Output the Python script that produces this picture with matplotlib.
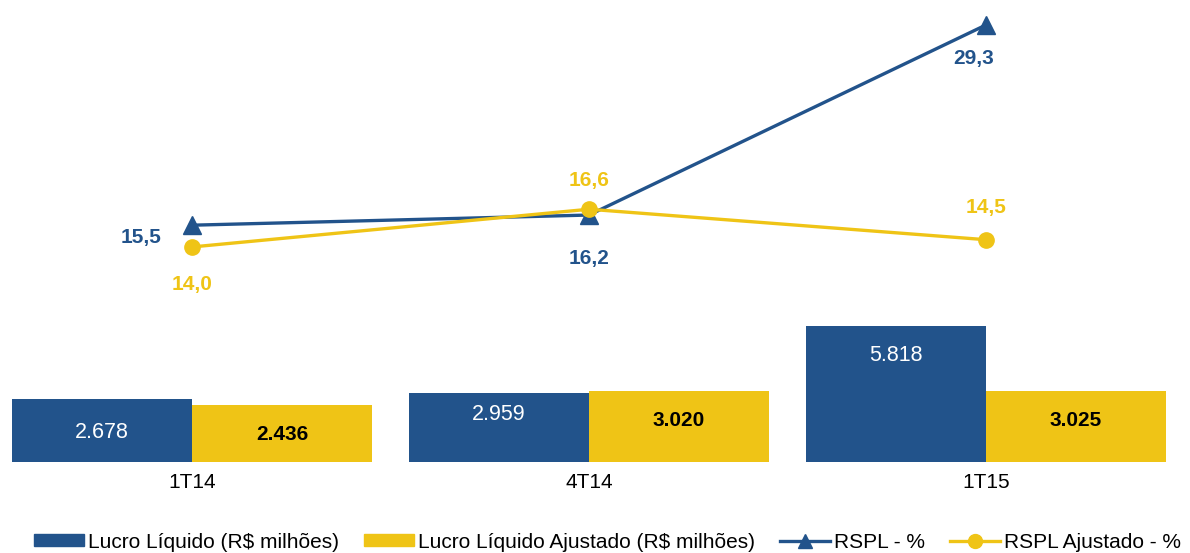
import matplotlib
matplotlib.use("Agg")
import matplotlib.pyplot as plt
from matplotlib.lines import Line2D
from matplotlib.patches import Patch
import numpy as np

plt.rcParams['font.family'] = ['Liberation Sans', 'DejaVu Sans']

categories = ["1T14", "4T14", "1T15"]
lucro_liquido = [2678, 2959, 5818]
lucro_ajustado = [2436, 3020, 3025]
rspl = [15.5, 16.2, 29.3]
rspl_ajustado = [14.0, 16.6, 14.5]

lucro_labels = ["2.678", "2.959", "5.818"]
ajustado_labels = ["2.436", "3.020", "3.025"]
rspl_labels = ["15,5", "16,2", "29,3"]
rspl_aj_labels = ["14,0", "16,6", "14,5"]

BLUE = "#22538B"
YELLOW = "#EFC416"

W, H = 1190, 553
fig = plt.figure(figsize=(W / 100, H / 100), dpi=100)

base_px = 462
ax = fig.add_axes([0, (H - base_px) / H, 1, base_px / H])
x = np.arange(len(categories))
group_px = 397.0
c0_px = 192.0
ax.set_xlim((0 - c0_px) / group_px, (W - c0_px) / group_px)
bar_scale = 23.4  # px per 1000
ax.set_ylim(0, base_px / bar_scale * 1000)

bw = 180 / group_px
b1 = ax.bar(x - bw / 2, lucro_liquido, width=bw, color=BLUE, zorder=2)
b2 = ax.bar(x + bw / 2, lucro_ajustado, width=bw, color=YELLOW, zorder=2)

blue_off = [-24, -16, -21]
for rect, lab, off in zip(b1, lucro_labels, blue_off):
    ax.annotate(lab, (rect.get_x() + rect.get_width() / 2, rect.get_height()),
                xytext=(0, off), textcoords="offset points", ha="center", va="center",
                color="white", fontsize=15.5)
for rect, lab in zip(b2, ajustado_labels):
    ax.annotate(lab, (rect.get_x() + rect.get_width() / 2, rect.get_height()),
                xytext=(0, -21), textcoords="offset points", ha="center", va="center",
                color="black", fontsize=15, fontweight="bold")

ax.set_xticks(x)
ax.set_xticklabels(categories, fontsize=15)
ax.tick_params(axis="x", length=0, pad=8)
ax.set_yticks([])
for s in ax.spines.values():
    s.set_visible(False)

ax2 = ax.twinx()
ax2.set_ylim(-0.82, 31.02)
ax2.set_yticks([])
for s in ax2.spines.values():
    s.set_visible(False)
ax2.plot(x, rspl, color=BLUE, lw=2.4, marker="^", ms=13, zorder=3)
ax2.plot(x, rspl_ajustado, color=YELLOW, lw=2.4, marker="o", ms=11, zorder=4)

rspl_off = [(-37, -9), (0, -31), (-9, -24)]
rspl_aj_off = [(0, -27), (0, 21), (0, 23)]
for xi, v, lab, off in zip(x, rspl, rspl_labels, rspl_off):
    ax2.annotate(lab, (xi, v), xytext=off, textcoords="offset points", ha="center",
                 va="center", color=BLUE, fontsize=15, fontweight="bold")
for xi, v, lab, off in zip(x, rspl_ajustado, rspl_aj_labels, rspl_aj_off):
    ax2.annotate(lab, (xi, v), xytext=off, textcoords="offset points", ha="center",
                 va="center", color=YELLOW, fontsize=15, fontweight="bold")

handles = [
    Patch(color=BLUE),
    Patch(color=YELLOW),
    Line2D([], [], color=BLUE, lw=2.4, marker="^", ms=10),
    Line2D([], [], color=YELLOW, lw=2.4, marker="o", ms=10),
]
labels = ["Lucro Líquido (R$ milhões)", "Lucro Líquido Ajustado (R$ milhões)",
          "RSPL - %", "RSPL Ajustado - %"]
fig.legend(handles, labels, loc="center", bbox_to_anchor=(0.5105, 1 - 542 / H), ncol=4,
           frameon=False, fontsize=15, handlelength=2.4, handleheight=0.5,
           handletextpad=0.2, columnspacing=1.2, borderaxespad=0)

fig.savefig("out.png", dpi=100)
